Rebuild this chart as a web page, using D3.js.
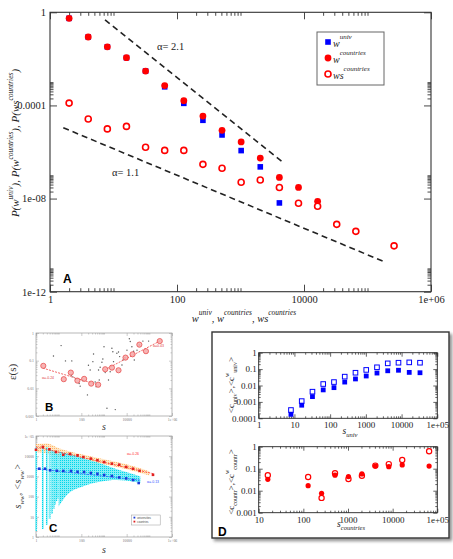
<!DOCTYPE html>
<html><head><meta charset="utf-8">
<script src="https://cdn.jsdelivr.net/npm/d3@7"></script>
<style>body{margin:0;background:#fff}svg{display:block}</style>
</head><body><svg id="c" width="453" height="559"></svg>
<script>
// ================= DATA =================
// Panel A
const aXTicks = [1, 100, 1e4, 1e6];
const aXTickLabels = ["1", "100", "10000", "1e+06"];
const aYTicks = [1e-12, 1e-8, 1e-4, 1];
const aYTickLabels = ["1e-12", "1e-08", "0.0001", "1"];
const aXUniv = [2, 4, 8, 16, 32, 64, 128, 256, 512, 1024, 2048, 4096];
const aWUniv = [0.55, 0.087, 0.033, 0.0112, 0.0030, 6.3e-4, 1.23e-4, 2.3e-5, 5.4e-6, 1.15e-6, 2.3e-7, 6.5e-9];
const aXCountries = [2, 4, 8, 16, 32, 64, 128, 256, 512, 1024, 2048, 4096, 8192, 16384];
const aWCountries = [0.55, 0.087, 0.033, 0.0112, 0.0030, 7.1e-4, 1.6e-4, 3.5e-5, 8.5e-6, 2.7e-6, 5.5e-7, 8.1e-8, 3.0e-8, 7.6e-9];
const aXWs = [2, 4, 8, 16, 32, 64, 128, 256, 512, 1024, 2048, 4096, 8192, 16384, 32768, 65536, 262144];
const aWsCountries = [1.26e-4, 2.6e-5, 9.8e-6, 1.26e-5, 1.6e-6, 1.17e-6, 1.17e-6, 2.95e-7, 2.0e-7, 5.0e-8, 6.3e-8, 3.0e-8, 6.3e-9, 4.7e-9, 7.8e-10, 3.9e-10, 9.3e-11];
const aGuide21X = [7.35, 4720], aGuide21Y = [0.47, 3.5e-7];
const aGuide11X = [1.62, 195000], aGuide11Y = [1.1e-5, 1.8e-11];

// Panel B
const bXTicks = [1, 100, 1e4, 1e6], bXTickLabels = ["1", "100", "10000", "1e+06"];
const bYTicks = [0.001, 0.01, 0.1, 1], bYTickLabels = ["0.001", "0.01", "0.1", "1"];
const bBinS = [2.1, 16.8, 34.3, 67, 133, 272, 553, 1130, 2240, 4370, 8900, 18200, 36300, 70800, 288000];
const bBinE = [0.065, 0.0214, 0.037, 0.019, 0.022, 0.0148, 0.0135, 0.049, 0.056, 0.045, 0.129, 0.17, 0.38, 0.22, 0.51];
const bDotS = [5.9, 12.8, 20, 38, 36, 42, 55, 80, 89, 112, 186, 206, 245, 323, 345, 408, 450, 575, 617, 676, 810, 890, 1000, 1130, 1350, 1580, 1870, 2230, 2460, 2630, 3140, 3700, 4370, 4900, 6200, 6900, 8400, 10300, 13100, 14400, 17000, 20300, 21700, 28600, 36000, 52000, 93000];
const bDotE = [0.148, 0.35, 0.098, 0.098, 0.030, 0.026, 0.022, 0.015, 0.012, 0.019, 0.0058, 0.068, 0.046, 0.092, 0.175, 0.017, 0.0115, 0.046, 0.020, 0.058, 0.088, 0.115, 0.32, 0.037, 0.0019, 0.020, 0.040, 0.28, 0.21, 0.092, 0.0017, 0.185, 0.205, 0.14, 0.070, 0.106, 0.128, 0.24, 0.62, 0.49, 0.32, 0.22, 0.106, 0.24, 0.37, 0.51, 0.51];
const bFitLowS = [2.0, 575], bFitLowE = [0.054, 0.0132];
const bFitHighS = [1050, 288000], bFitHighE = [0.046, 0.51];
const bAlphaLabels = ["α=-0.24", "α=0.43"];

// Panel C
const cYTicks = [1, 10, 100, 1000, 1e4, 1e5], cYTickLabels = ["1", "10", "100", "1000", "10000", "1e+05"];
const cUnivS = [1.4, 2.5, 4.2, 8.3, 16, 35, 68, 132, 263, 513, 1020, 2240, 4680, 9550, 19000, 33900];
const cUnivW = [2400, 2400, 2000, 1900, 1860, 1860, 1700, 1660, 1480, 1350, 1175, 1050, 890, 795, 660, 470];
const cCountrS = [1, 2, 3.9, 7.6, 16, 32, 68, 123, 263, 513, 1020, 2240, 4680, 9550, 19000, 37000, 145000];
const cCountrW = [20900, 28800, 21900, 16200, 11700, 12900, 11000, 9100, 7600, 6300, 5100, 4270, 3800, 2950, 2400, 1900, 1200];
const cFitCountrS = [1, 155000], cFitCountrW = [28800, 1350];
const cFitUnivS = [1, 40000], cFitUnivW = [2400, 650];
const cColS = [1, 2, 3, 4, 5, 6, 7, 8, 9];
const cColTop = [28000, 31000, 28000, 22000, 20000, 18000, 16000, 14000, 12600];
const cColBottom = [2, 2.5, 4, 8, 14, 25, 40, 60, 80];
const cCloudS = [10, 23, 123, 676, 3700, 20300, 40000];
const cCloudTop = [16600, 13800, 7900, 4470, 2240, 1260, 980];
const cCloudBottom = [32, 120, 330, 550, 660, 550, 490];
const cOrangeS = [1, 3, 10, 100, 1000, 10000, 100000];
const cOrangeTop = [40000, 42000, 25000, 12600, 7100, 4000, 1800];
const cOrangeBottom = [15800, 14000, 8900, 6300, 4000, 2240, 1120];
const cAlphaLabels = ["α=-0.26", "α=-0.13"];
const cLegend = ["universities", "countries"];

// Panel D
const dTopXTicks = [1, 10, 100, 1000, 1e4, 1e5], dTopXLabels = ["1", "10", "100", "1000", "10000", "1e+05"];
const dTopYTicks = [1e-4, 1e-3, 0.01, 0.1, 1], dTopYLabels = ["0.0001", "0.001", "0.01", "0.1", "1"];
const dBotXTicks = [10, 100, 1000, 1e4, 1e5], dBotXLabels = ["10", "100", "1000", "10000", "1e+05"];
const dBotYTicks = [1e-3, 0.01, 0.1, 1], dBotYLabels = ["0.001", "0.01", "0.1", "1"];
const dUnivS = [8, 16, 32, 64, 128, 256, 512, 1024, 2048, 4096, 8192, 16384, 32768];
const dUnivCw = [3.2e-4, 1.12e-3, 4.2e-3, 0.0123, 0.0162, 0.0347, 0.060, 0.089, 0.129, 0.224, 0.245, 0.257, 0.245];
const dUnivC = [1.74e-4, 6.3e-4, 2.1e-3, 5.4e-3, 7.4e-3, 0.0162, 0.0251, 0.038, 0.0575, 0.079, 0.085, 0.063, 0.060];
const dCountrS = [16, 128, 256, 512, 1024, 2048, 4096, 8192, 16384, 65536];
const dCountrCw = [0.050, 0.042, 0.0047, 0.062, 0.034, 0.048, 0.138, 0.162, 0.251, 0.62];
const dCountrC = [0.033, 0.017, 0.0076, 0.051, 0.044, 0.058, 0.132, 0.123, 0.148, 0.132];

// ================= DRAWING =================
const SERIF = "'Liberation Serif','DejaVu Serif',serif";
const SANS = "'Liberation Sans','DejaVu Sans',sans-serif";
const svg = d3.select("#c");
svg.append("rect").attr("width", 453).attr("height", 559).attr("fill", "#fff");
const defs = svg.append("defs");
const pat = defs.append("pattern").attr("id", "cy").attr("width", 2).attr("height", 2).attr("patternUnits", "userSpaceOnUse");
pat.append("rect").attr("width", 2).attr("height", 2).attr("fill", "#86eef6");
pat.append("rect").attr("width", 1).attr("height", 1).attr("fill", "#00d6ea");
const pat2 = defs.append("pattern").attr("id", "or").attr("width", 2).attr("height", 2).attr("patternUnits", "userSpaceOnUse");
pat2.append("rect").attr("width", 2).attr("height", 2).attr("fill", "#ffe2bc");
pat2.append("rect").attr("width", 1).attr("height", 1).attr("fill", "#ffa848");
const sh = defs.append("filter").attr("id", "shadow").attr("x", "-5%").attr("y", "-5%").attr("width", "115%").attr("height", "115%");
sh.append("feDropShadow").attr("dx", 2.5).attr("dy", 2.5).attr("stdDeviation", 1.5).attr("flood-color", "#777").attr("flood-opacity", 0.8);

function minorsOf(majors, kMax) {
  const out = [];
  majors.slice(0, -1).forEach(m => { for (let k = 2; k <= kMax; k++) out.push(m * k); });
  return out;
}

function logPanel(p) {
  const x = d3.scaleLog().domain(p.xd).range([p.l, p.r]);
  const y = d3.scaleLog().domain(p.yd).range([p.b, p.t]);
  const g = svg.append("g");
  const add = (gen, tr, vals, size, fmt, pad) => {
    const gg = g.append("g").attr("transform", tr)
      .call(gen.tickValues(vals).tickSizeInner(size).tickSizeOuter(0).tickPadding(pad).tickFormat(fmt));
    gg.select(".domain").remove();
    gg.attr("font-family", SERIF).attr("font-size", p.fs);
    gg.selectAll("line").attr("stroke", p.col).attr("stroke-width", p.tw);
    gg.selectAll("text").attr("fill", p.tcol);
    return gg;
  };
  const fx = v => p.xLab[p.xMaj.indexOf(v)];
  const fy = v => p.yLab[p.yMaj.indexOf(v)];
  const none = () => "";
  const px = p.padx || p.pad;
  add(d3.axisBottom(x), `translate(0,${p.b})`, p.xMaj, -p.maj, fx, px);
  add(d3.axisBottom(x), `translate(0,${p.b})`, p.xMin, -p.min, none, px);
  add(d3.axisTop(x), `translate(0,${p.t})`, p.xMaj, -p.maj, none, px);
  add(d3.axisTop(x), `translate(0,${p.t})`, p.xMin, -p.min, none, px);
  add(d3.axisLeft(y), `translate(${p.l},0)`, p.yMaj, -p.maj, fy, p.pad);
  add(d3.axisLeft(y), `translate(${p.l},0)`, p.yMin, -p.min, none, p.pad);
  add(d3.axisRight(y), `translate(${p.r},0)`, p.yMaj, -p.maj, none, p.pad);
  add(d3.axisRight(y), `translate(${p.r},0)`, p.yMin, -p.min, none, p.pad);
  g.append("rect").attr("x", p.l).attr("y", p.t).attr("width", p.r - p.l).attr("height", p.b - p.t)
    .attr("fill", "none").attr("stroke", p.col).attr("stroke-width", p.fw);
  const marks = svg.append("g");
  return { x, y, g: marks };
}

function rich(sel, parts, base, small, shift) {
  let cur = 0;
  parts.forEach(pt => {
    const target = pt.sup ? -shift : pt.sub ? shift * 0.55 : 0;
    sel.append("tspan").attr("dy", target - cur).attr("font-size", (pt.sup || pt.sub) ? small : base).text(pt.t);
    cur = target;
  });
}

// ---------- Panel A ----------
const A = logPanel({ l: 50, r: 431, t: 12.3, b: 291.7, xd: [1, 1e6], yd: [1e-12, 1],
  xMaj: aXTicks, xLab: aXTickLabels, xMin: minorsOf(aXTicks, 10),
  yMaj: aYTicks, yLab: aYTickLabels, yMin: minorsOf(aYTicks, 10),
  maj: 7, min: 3.5, col: "#333", tcol: "#222", tw: 0.9, fw: 1.1, fs: 10.5, pad: 4 });

const lineA = d3.line().x(d => A.x(d[0])).y(d => A.y(d[1]));
[[aGuide21X, aGuide21Y], [aGuide11X, aGuide11Y]].forEach(([gx, gy]) => {
  A.g.append("path").attr("d", lineA(d3.zip(gx, gy))).attr("fill", "none")
    .attr("stroke", "#222").attr("stroke-width", 1.6).attr("stroke-dasharray", "6,4");
});
A.g.selectAll(".sqA").data(d3.zip(aXUniv, aWUniv)).join("rect")
  .attr("x", d => A.x(d[0]) - 2.8).attr("y", d => A.y(d[1]) - 2.8).attr("width", 5.6).attr("height", 5.6).attr("fill", "#0000ff");
A.g.selectAll(".ciA").data(d3.zip(aXCountries, aWCountries)).join("circle")
  .attr("cx", d => A.x(d[0])).attr("cy", d => A.y(d[1])).attr("r", 3.4).attr("fill", "#ff0000");
A.g.selectAll(".ocA").data(d3.zip(aXWs, aWsCountries)).join("circle")
  .attr("cx", d => A.x(d[0])).attr("cy", d => A.y(d[1])).attr("r", 3.0).attr("fill", "#fff")
  .attr("stroke", "#ff0000").attr("stroke-width", 1.6);

A.g.append("text").attr("x", 157).attr("y", 50).attr("font-family", SERIF).attr("font-size", 10.5).attr("fill", "#222").text("α= 2.1");
A.g.append("text").attr("x", 112).attr("y", 176).attr("font-family", SERIF).attr("font-size", 10.5).attr("fill", "#222").text("α= 1.1");

// legend
const lg = A.g.append("g");
lg.append("rect").attr("x", 317).attr("y", 32).attr("width", 67).attr("height", 53).attr("fill", "#fff").attr("stroke", "#666").attr("stroke-width", 1);
const legItems = [
  { y: 42, parts: [{ t: "w" }, { t: "univ", sup: true }], kind: "sq" },
  { y: 58, parts: [{ t: "w" }, { t: "countries", sup: true }], kind: "ci" },
  { y: 74, parts: [{ t: "ws" }, { t: "countries", sup: true }], kind: "oc" }];
legItems.forEach(it => {
  if (it.kind === "sq") lg.append("rect").attr("x", 325.2).attr("y", it.y - 2.8).attr("width", 5.6).attr("height", 5.6).attr("fill", "#0000ff");
  if (it.kind === "ci") lg.append("circle").attr("cx", 328).attr("cy", it.y).attr("r", 3.4).attr("fill", "#ff0000");
  if (it.kind === "oc") lg.append("circle").attr("cx", 328).attr("cy", it.y).attr("r", 3.0).attr("fill", "#fff").attr("stroke", "#ff0000").attr("stroke-width", 1.6);
  const t = lg.append("text").attr("x", 333).attr("y", it.y + 5).attr("font-family", SERIF).attr("font-style", "italic").attr("fill", "#222");
  rich(t, it.parts, 10, 7, 8);
});

// axis titles
const axT = A.g.append("text").attr("x", 244).attr("y", 322).attr("text-anchor", "middle")
  .attr("font-family", SERIF).attr("font-style", "italic").attr("fill", "#222");
rich(axT, [{ t: "w" }, { t: "univ", sup: true }, { t: ", w" }, { t: "countries", sup: true }, { t: ", ws" }, { t: "countries", sup: true }], 10.5, 7.5, 7);
const ayT = A.g.append("text").attr("transform", "translate(19,143) rotate(-90)").attr("text-anchor", "middle")
  .attr("font-family", SERIF).attr("font-style", "italic").attr("fill", "#222");
rich(ayT, [{ t: "P(w" }, { t: "univ", sup: true }, { t: "), P(w" }, { t: "countries", sup: true }, { t: "), P(ws" }, { t: "countries", sup: true }, { t: ")" }], 11, 7.5, 6);
A.g.append("text").attr("x", 63).attr("y", 283).attr("font-family", SANS).attr("font-weight", "bold").attr("font-size", 12).text("A");

// ---------- Panel B ----------
const B = logPanel({ l: 36, r: 172, t: 333, b: 416, xd: [1, 1e6], yd: [1e-3, 1],
  xMaj: bXTicks, xLab: bXTickLabels, xMin: minorsOf(bXTicks, 10),
  yMaj: bYTicks, yLab: bYTickLabels, yMin: minorsOf(bYTicks, 9),
  maj: 3, min: 1.5, col: "#999", tcol: "#777", tw: 0.5, fw: 0.7, fs: 3.8, pad: 2 });
B.g.selectAll(".bd").data(d3.zip(bDotS, bDotE)).join("circle")
  .attr("cx", d => B.x(d[0])).attr("cy", d => B.y(d[1])).attr("r", 0.7).attr("fill", "#555");
const lineB = d3.line().x(d => B.x(d[0])).y(d => B.y(d[1]));
[[bFitLowS, bFitLowE], [bFitHighS, bFitHighE]].forEach(([sx, sy]) => {
  B.g.append("path").attr("d", lineB(d3.zip(sx, sy))).attr("fill", "none").attr("stroke", "#ee5555")
    .attr("stroke-width", 0.9).attr("stroke-dasharray", "2,1.2");
});
B.g.selectAll(".bc").data(d3.zip(bBinS, bBinE)).join("circle")
  .attr("cx", d => B.x(d[0])).attr("cy", d => B.y(d[1])).attr("r", 2.6).attr("fill", "#f6a8a8")
  .attr("stroke", "#e85050").attr("stroke-width", 0.8).attr("fill-opacity", 0.85);
B.g.append("text").attr("x", 42).attr("y", 378.5).attr("font-family", SANS).attr("font-size", 3.5).attr("fill", "#e04040").text(bAlphaLabels[0]);
B.g.append("text").attr("x", 153).attr("y", 347).attr("font-family", SANS).attr("font-size", 3.5).attr("fill", "#e04040").text(bAlphaLabels[1]);
B.g.append("text").attr("x", 45).attr("y", 410.5).attr("font-family", SANS).attr("font-weight", "bold").attr("font-size", 11.5).text("B");
B.g.append("text").attr("transform", "translate(16,372) rotate(-90)").attr("text-anchor", "middle")
  .attr("font-family", SERIF).attr("font-size", 11).attr("fill", "#333").text("ε(s)");
B.g.append("text").attr("x", 104).attr("y", 430).attr("text-anchor", "middle").attr("font-family", SERIF)
  .attr("font-style", "italic").attr("font-size", 10).attr("fill", "#333").text("s");

// ---------- Panel C ----------
const C = logPanel({ l: 36, r: 172, t: 436, b: 537, xd: [1, 1e6], yd: [1, 1e5],
  xMaj: bXTicks, xLab: bXTickLabels, xMin: minorsOf(bXTicks, 10),
  yMaj: cYTicks, yLab: cYTickLabels, yMin: minorsOf(cYTicks, 9),
  maj: 3, min: 1.5, col: "#999", tcol: "#777", tw: 0.5, fw: 0.7, fs: 3.8, pad: 2 });
const areaC = d3.area().x(d => C.x(d[0])).y0(d => C.y(d[2])).y1(d => C.y(d[1])).curve(d3.curveMonotoneX);
C.g.append("path").attr("d", areaC(d3.zip(cOrangeS, cOrangeTop, cOrangeBottom))).attr("fill", "url(#or)").attr("opacity", 0.85);
C.g.append("path").attr("d", areaC(d3.zip(cCloudS, cCloudTop, cCloudBottom))).attr("fill", "url(#cy)");
C.g.selectAll(".col").data(d3.zip(cColS, cColTop, cColBottom)).join("rect")
  .attr("x", d => C.x(d[0]) - 0.9).attr("width", 1.8)
  .attr("y", d => C.y(d[1])).attr("height", d => C.y(d[2]) - C.y(d[1])).attr("fill", "url(#cy)");
const lineC = d3.line().x(d => C.x(d[0])).y(d => C.y(d[1]));
C.g.append("path").attr("d", lineC(d3.zip(cFitCountrS, cFitCountrW))).attr("fill", "none").attr("stroke", "#ff3030").attr("stroke-width", 0.8).attr("stroke-dasharray", "2,1.2");
C.g.append("path").attr("d", lineC(d3.zip(cFitUnivS, cFitUnivW))).attr("fill", "none").attr("stroke", "#3050ff").attr("stroke-width", 0.8).attr("stroke-dasharray", "2,1.2");
C.g.selectAll(".cr").data(d3.zip(cCountrS, cCountrW)).join("rect")
  .attr("x", d => C.x(d[0]) - 1.3).attr("y", d => C.y(d[1]) - 1.3).attr("width", 2.6).attr("height", 2.6).attr("fill", "#e02020");
C.g.selectAll(".cb").data(d3.zip(cUnivS, cUnivW)).join("rect")
  .attr("x", d => C.x(d[0]) - 1.3).attr("y", d => C.y(d[1]) - 1.3).attr("width", 2.6).attr("height", 2.6).attr("fill", "#1a3ad8");
C.g.append("text").attr("x", 127).attr("y", 455).attr("font-family", SANS).attr("font-size", 3.5).attr("fill", "#ff3030").text(cAlphaLabels[0]);
C.g.append("text").attr("x", 147).attr("y", 483).attr("font-family", SANS).attr("font-size", 3.5).attr("fill", "#3050ff").text(cAlphaLabels[1]);
const cl = C.g.append("g");
cl.append("rect").attr("x", 131.7).attr("y", 515).attr("width", 28.5).attr("height", 10).attr("fill", "#fff").attr("stroke", "#999").attr("stroke-width", 0.5);
cLegend.forEach((t, i) => {
  cl.append("rect").attr("x", 133.5).attr("y", 516.7 + i * 4).attr("width", 1.8).attr("height", 1.8).attr("fill", i ? "#e02020" : "#1a3ad8");
  cl.append("text").attr("x", 137).attr("y", 518.5 + i * 4).attr("font-family", SANS).attr("font-size", 2.8).attr("fill", "#444").text(t);
});
C.g.append("text").attr("x", 49).attr("y", 531.5).attr("font-family", SANS).attr("font-weight", "bold").attr("font-size", 11.5).text("C");
const cyT = C.g.append("text").attr("transform", "translate(21,486) rotate(-90)").attr("text-anchor", "middle")
  .attr("font-family", SERIF).attr("font-style", "italic").attr("fill", "#333");
rich(cyT, [{ t: "s" }, { t: "ww", sub: true }, { t: ", <s" }, { t: "ww", sub: true }, { t: ">" }], 10, 7, 6);
C.g.append("text").attr("x", 104).attr("y", 553).attr("text-anchor", "middle").attr("font-family", SERIF)
  .attr("font-style", "italic").attr("font-size", 10).attr("fill", "#333").text("s");

// ---------- Panel D ----------
svg.append("rect").attr("x", 212).attr("y", 332).attr("width", 237).attr("height", 206)
  .attr("fill", "#fff").attr("stroke", "#333").attr("stroke-width", 1.4).attr("filter", "url(#shadow)");
const D1 = logPanel({ l: 258.7, r: 437.3, t: 352.7, b: 418.3, xd: [1, 1e5], yd: [1e-4, 1],
  xMaj: dTopXTicks, xLab: dTopXLabels, xMin: minorsOf(dTopXTicks, 9),
  yMaj: dTopYTicks, yLab: dTopYLabels, yMin: minorsOf(dTopYTicks, 9),
  maj: 4, min: 2, col: "#222", tcol: "#222", tw: 0.7, fw: 0.9, fs: 9, pad: 2, padx: 3 });
D1.g.selectAll(".dq").data(d3.zip(dUnivS, dUnivC)).join("rect")
  .attr("x", d => D1.x(d[0]) - 2.4).attr("y", d => D1.y(d[1]) - 2.4).attr("width", 4.8).attr("height", 4.8).attr("fill", "#0000ff");
D1.g.selectAll(".dqo").data(d3.zip(dUnivS, dUnivCw)).join("rect")
  .attr("x", d => D1.x(d[0]) - 2.3).attr("y", d => D1.y(d[1]) - 2.3).attr("width", 4.6).attr("height", 4.6)
  .attr("fill", "none").attr("stroke", "#0000ff").attr("stroke-width", 1);
const d1x = D1.g.append("text").attr("x", 350).attr("y", 434).attr("text-anchor", "middle").attr("font-family", SERIF).attr("font-style", "italic").attr("fill", "#222");
rich(d1x, [{ t: "s" }, { t: "univ", sub: true }], 9.5, 6.5, 5);
const d1y = D1.g.append("text").attr("transform", "translate(234,385) rotate(-90)").attr("text-anchor", "middle").attr("font-family", SERIF).attr("fill", "#222");
rich(d1y, [{ t: "<c" }, { t: "univ", sub: true }, { t: ">,<c" }, { t: "w", sup: true }, { t: "univ", sub: true }, { t: ">" }], 9, 6, 5);

const D2 = logPanel({ l: 258.7, r: 437.3, t: 446.7, b: 512.7, xd: [10, 1e5], yd: [1e-3, 1],
  xMaj: dBotXTicks, xLab: dBotXLabels, xMin: minorsOf(dBotXTicks, 9),
  yMaj: dBotYTicks, yLab: dBotYLabels, yMin: minorsOf(dBotYTicks, 9),
  maj: 4, min: 2, col: "#222", tcol: "#222", tw: 0.7, fw: 0.9, fs: 9, pad: 2, padx: 3.5 });
D2.g.selectAll(".dc").data(d3.zip(dCountrS, dCountrC)).join("circle")
  .attr("cx", d => D2.x(d[0])).attr("cy", d => D2.y(d[1])).attr("r", 2.6).attr("fill", "#ff0000");
D2.g.selectAll(".dco").data(d3.zip(dCountrS, dCountrCw)).join("circle")
  .attr("cx", d => D2.x(d[0])).attr("cy", d => D2.y(d[1])).attr("r", 2.6).attr("fill", "none")
  .attr("stroke", "#ff0000").attr("stroke-width", 1.2);
const d2x = D2.g.append("text").attr("x", 351).attr("y", 527).attr("text-anchor", "middle").attr("font-family", SERIF).attr("font-style", "italic").attr("fill", "#222");
rich(d2x, [{ t: "s" }, { t: "countries", sub: true }], 9.5, 6.5, 5);
const d2y = D2.g.append("text").attr("transform", "translate(234,482) rotate(-90)").attr("text-anchor", "middle").attr("font-family", SERIF).attr("fill", "#222");
rich(d2y, [{ t: "<c" }, { t: "countr", sub: true }, { t: ">,<c" }, { t: "w", sup: true }, { t: "countr", sub: true }, { t: ">" }], 9, 6, 5);
// shift the corner tick label "0.001" up a touch so it doesn't collide with "10"
D2.g.append("g");
svg.append("text").attr("x", 218).attr("y", 536).attr("font-family", SANS).attr("font-weight", "bold").attr("font-size", 12).text("D");
</script></body></html>
